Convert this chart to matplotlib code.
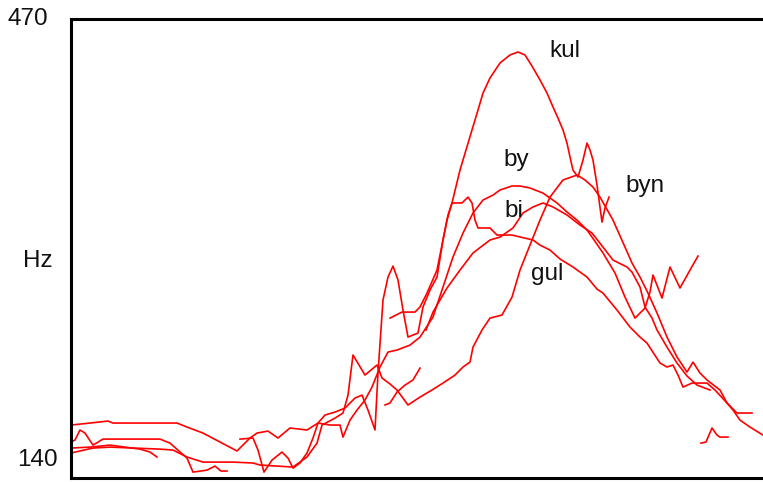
import numpy as np
import matplotlib.pyplot as plt

plt.rcParams['font.family'] = ['Liberation Sans', 'DejaVu Sans']

nan = np.nan

# pitch tracks: time (ms) and F0 (Hz), NaN = unvoiced gap
kul_t = [169, 182, 187, 193, 201, 211, 217, 222, 229, 236,
         242, 247, 254, 264, 274, 284, 291, 297, 304, 307,
         312, 317, 322, 327, 332, 337, 347, 352, 359, 366,
         372, 376, 381, 389, 395, 401, 407, 412, 419, 429,
         439, 447, 454, 461, 469, 476, 482, 487, 492, 496,
         499, 502, 507, 512, 516, 519, 522, 526, 531, 534,
         538, nan, 630, 635, 641, 646, 649, 657]
kul_hz = [155.8, 156.6, 147.6, 131.1, 140.1, 146.1, 141.6, 134.1, 137.9, 145.4,
          156.6, 167.8, 173.8, 176.0, 179.0, 186.5, 188.7, 177.5, 162.6, 205.2,
          259.8, 277.0, 285.2, 274.8, 252.3, 232.1, 235.1, 254.6, 267.3, 277.0,
          304.7, 319.6, 332.4, 357.0, 372.0, 387.0, 401.9, 414.6, 425.9, 437.1,
          443.1, 445.3, 443.1, 434.8, 424.4, 414.6, 404.2, 395.9, 387.0, 377.2,
          366.8, 357.0, 351.8, 364.5, 377.2, 372.0, 364.5, 345.8, 318.1, 328.6,
          336.8, nan, 152.8, 153.6, 164.1, 158.8, 157.3, 157.3]

by_t = [0, 19, 37, 42, 106, 116, 132, 149, 166, 179,
        186, 197, 207, 219, 236, 247, 259, 269, 272, 279,
        286, 294, 301, 309, 317, 326, 339, 349, 362, 372,
        382, 392, 402, 412, 422, 429, 441, 449, 459, 472,
        486, 496, 506, 516, 521, 532, 544, 554, 564, 574,
        579, 582, 591, 599, 609, 619, 627]
by_hz = [166.3, 167.8, 169.3, 167.8, 167.8, 164.8, 160.3, 153.6, 146.9, 156.6,
         160.3, 161.8, 156.6, 164.1, 162.6, 167.8, 166.3, 166.3, 157.3, 170.0,
         177.5, 185.0, 194.7, 209.7, 220.9, 222.4, 226.1, 232.1, 247.1, 269.5,
         292.0, 309.9, 324.9, 334.6, 338.3, 342.1, 345.1, 345.1, 343.6, 339.8,
         332.4, 325.6, 319.6, 312.2, 306.9, 295.0, 280.0, 262.0, 246.3, 253.8,
         265.8, 278.5, 261.3, 284.5, 268.8, 282.2, 292.7]

gul_t = [0, 22, 39, 89, 102, 116, 132, 162, 182, 189,
         222, 236, 246, 251, 264, 272, 277, 282, 294, 306,
         311, 319, 326, 337, 349, 361, 372, 384, 392, 399,
         402, 411, 419, 431, 441, 449, 457, 469, 479, 492,
         506, 514, 522, 529, 542, 554, 561, 569, 577, 586,
         596, 606, 616, 622, 629, 636, 649, 656, 666, 681]
gul_hz = [145.4, 149.1, 149.8, 148.3, 147.6, 142.4, 138.6, 138.6, 137.9, 136.4,
          134.9, 142.4, 152.8, 166.3, 171.5, 175.3, 188.7, 218.7, 203.7, 211.2,
          201.5, 197.0, 192.5, 181.3, 187.2, 192.5, 197.7, 203.7, 209.7, 213.4,
          224.6, 237.4, 246.3, 248.6, 262.0, 282.2, 297.2, 319.6, 336.8, 349.6,
          353.3, 349.6, 344.3, 336.8, 319.6, 299.4, 287.5, 277.0, 265.0, 250.1,
          232.1, 217.2, 205.9, 213.4, 205.2, 200.0, 192.5, 182.8, 175.3, 175.3]

bi_t = [0, 19, 39, 69, 79, 86, nan,
        314, 319, 326, 334, 342, 349, nan,
        355, 362, 369, 376, 389, 402, 419, 429, 442, 452,
        462, 472, 482, 496, 509, 521, 532, 542, 556, 561,
        569, 574, 581, 586, 596, 606, 616, 626, 639]
bi_hz = [149.1, 149.8, 151.3, 148.3, 146.1, 142.4, nan,
         181.3, 182.8, 191.0, 196.2, 200.0, 208.9, nan,
         237.4, 250.8, 259.8, 268.8, 282.2, 295.0, 304.7, 306.9, 313.7, 324.9,
         329.4, 332.4, 329.4, 323.4, 315.9, 309.9, 299.4, 289.7, 284.5, 280.7,
         269.5, 254.6, 246.3, 237.4, 224.6, 212.7, 203.0, 196.2, 192.5]

byn_t = [0, 4, 9, 14, 22, 32, 59, 89, 99, 116,
         122, 136, 144, 150, 156, nan,
         319, 331, 344, 349, 356, 366, 372, 377, 381, 391,
         397, 401, 404, 407, 419, 426, 441, 462, 469, 479,
         489, 502, 516, 526, 532, 546, 559, 569, 576, 589,
         596, 602, 607, 612, 621, 636, 644, 656, 662, 669,
         679, 692]
byn_hz = [153.6, 155.1, 162.6, 160.3, 151.3, 155.8, 155.8, 155.8, 152.8, 141.6,
          131.1, 132.6, 135.6, 131.9, 131.9, nan,
          246.3, 250.8, 250.8, 254.6, 265.0, 282.2, 304.7, 323.4, 332.4, 332.4,
          336.8, 332.4, 319.6, 313.7, 313.7, 308.4, 308.4, 304.7, 300.9, 297.2,
          290.5, 284.5, 277.0, 268.0, 265.0, 252.3, 239.6, 232.1, 227.6, 212.7,
          209.7, 211.2, 203.7, 194.7, 197.7, 197.7, 192.5, 182.8, 177.5, 170.0,
          164.8, 158.8]

# word labels: (text, time, Hz at baseline)
words = ['kul', 'by', 'bi', 'gul', 'byn']
word_t = [494, 445, 443, 476, 574]
word_hz = [441.6, 360.0, 321.9, 274.8, 340.6]

fig = plt.figure(figsize=(7.63, 4.82), dpi=100)
ax = fig.add_axes([71 / 763, 4 / 482, 692 / 763, 459 / 482])

for t, hz in [(kul_t, kul_hz), (by_t, by_hz), (gul_t, gul_hz),
              (bi_t, bi_hz), (byn_t, byn_hz)]:
    ax.plot(t, hz, color='#ff0000', lw=1.2)

for w, t, hz in zip(words, word_t, word_hz):
    ax.text(t, hz, w, fontsize=17.5, ha='center', va='baseline', color='#111111')

ax.set_xlim(0, 692)
ax.set_ylim(126.7, 470)
ax.set_xticks([])
ax.set_yticks([])

# y-axis annotations
yax = ax.get_yaxis_transform()
ax.text(-0.063, 470, '470', transform=yax, fontsize=17.5, ha='center', va='center',
        color='#111111', clip_on=False)
ax.text(-0.048, 140, '140', transform=yax, fontsize=17.5, ha='center', va='center',
        color='#111111', clip_on=False)
ax.text(-0.048, 289, 'Hz', transform=yax, fontsize=17.5, ha='center', va='center',
        color='#111111', clip_on=False)

for side in ['left', 'top', 'bottom']:
    ax.spines[side].set_linewidth(2.2)
    ax.spines[side].set_color('black')
ax.spines['right'].set_visible(False)

fig.savefig('out.png', dpi=100)
